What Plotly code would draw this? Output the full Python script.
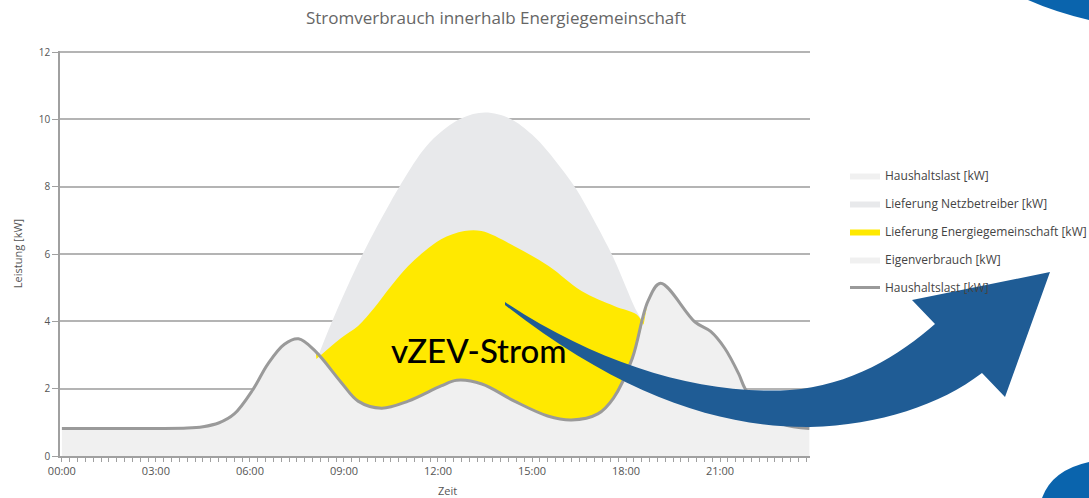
import plotly.graph_objects as go

# ---------------- data ----------------
# Haushaltslast (household load), hours -> kW
load_hours = [0, 1, 2, 3, 4, 4.5, 5.0, 5.5, 6.1, 6.57, 7.1, 7.55, 8.1, 8.9, 9.45, 10.2, 11.05,
              12.1, 12.6, 13.4, 14.44, 15.5, 16.26, 17.1, 17.6, 18.2, 18.7, 19.1, 20.2,
              20.7, 21.15, 21.6, 21.8, 22.3, 23.0, 23.85]
load_kw = [0.82, 0.82, 0.82, 0.82, 0.83, 0.87, 0.98, 1.25, 1.98, 2.73, 3.32, 3.48, 3.1, 2.2, 1.63,
           1.42, 1.63, 2.08, 2.25, 2.14, 1.63, 1.19, 1.07, 1.25, 1.72, 2.9, 4.6, 5.13, 3.98,
           3.7, 3.2, 2.43, 2.0, 1.4, 0.95, 0.82]

# Lieferung Netzbetreiber (large bell)
grid_hours = [8.15, 8.6, 9.6, 10.5, 10.77, 11.5, 12.0, 12.75, 13.5, 14.3, 15.0, 15.5, 16.36,
              16.64, 17.54, 18.34, 18.6]
grid_kw = [2.9, 3.95, 6.0, 7.57, 8.0, 9.05, 9.55, 10.03, 10.2, 10.02, 9.55, 9.05, 8.0,
           7.57, 6.0, 4.3, 3.9]

# Lieferung Energiegemeinschaft (upper edge of the yellow band)
community_hours = [8.12, 8.9, 9.45, 9.97, 10.5, 11.05, 11.57, 12.1, 12.84, 13.39, 14.44, 15.53,
                   16.58, 17.64, 18.34, 18.56]
community_kw = [2.88, 3.5, 3.86, 4.4, 5.04, 5.64, 6.08, 6.44, 6.68, 6.68, 6.23, 5.64,
                4.9, 4.45, 4.2, 3.9]

# Eigenverbrauch: household load during the supply window
own_window = (8.1, 18.7)
own_hours = [h for h in load_hours if own_window[0] <= h <= own_window[1]]
own_kw = [v for h, v in zip(load_hours, load_kw) if own_window[0] <= h <= own_window[1]]

tick_hours = [0, 3, 6, 9, 12, 15, 18, 21]
tick_labels = ["00:00", "03:00", "06:00", "09:00", "12:00", "15:00", "18:00", "21:00"]
y_ticks = [0, 2, 4, 6, 8, 10, 12]

# ---------------- figure ----------------
W, H = 1089, 498
L, R, T, B = 60, 279, 51, 42
PW, PH = W - L - R, H - T - B


def P(px, py):
    return (px - L) / PW, (H - B - py) / PH


def path(cmds):
    out = []
    for c, pts in cmds:
        out.append(c + " ".join("%.5f,%.5f" % P(x, y) for x, y in pts))
    return " ".join(out) + " Z"


fig = go.Figure()

fig.add_trace(go.Scatter(
    x=grid_hours, y=grid_kw, name="Lieferung Netzbetreiber [kW]", mode="lines",
    line=dict(width=0, shape="spline", color="#e8e9eb"), fill="tozeroy", fillcolor="#e8e9eb",
    legendgroup="g2", legendrank=2, hoverinfo="skip"))

fig.add_trace(go.Scatter(
    x=load_hours, y=load_kw, name="Haushaltslast [kW]", mode="lines",
    line=dict(width=0, shape="spline", color="#f0f0f0"), fill="tozeroy", fillcolor="#f0f0f0",
    legendgroup="g1", legendrank=1, hoverinfo="skip"))

fig.add_trace(go.Scatter(
    x=own_hours, y=own_kw, name="Eigenverbrauch [kW]", mode="lines",
    line=dict(width=0, shape="spline", color="#f0f0f0"), fill="tozeroy", fillcolor="#f0f0f0",
    legendgroup="g4", legendrank=4, hoverinfo="skip"))

fig.add_trace(go.Scatter(
    x=community_hours, y=community_kw, name="Lieferung Energiegemeinschaft [kW]", mode="lines",
    line=dict(width=0, shape="spline", color="#ffe900"), fill="tonexty", fillcolor="#ffe900",
    legendgroup="g3", legendrank=3, hoverinfo="skip"))

fig.add_trace(go.Scatter(
    x=load_hours, y=load_kw, name="Haushaltslast [kW]", mode="lines",
    line=dict(width=3, shape="spline", color="#9a9a9a"),
    legendgroup="g5", legendrank=5, hoverinfo="skip"))

# decorative overlay shapes
arrow = path([
    ("M", [(505, 302)]),
    ("C", [(600, 365), (700, 395), (790, 390)]),
    ("C", [(850, 386), (900, 355), (935, 324)]),
    ("L", [(912, 300)]),
    ("L", [(1050, 272)]),
    ("L", [(1005, 397)]),
    ("L", [(982, 373)]),
    ("C", [(940, 405), (880, 425), (810, 427)]),
    ("C", [(720, 428), (620, 395), (505, 305)]),
])
top_deco = path([
    ("M", [(1028, 0)]),
    ("L", [(1089, 0)]),
    ("L", [(1089, 20)]),
    ("Q", [(1055, 12), (1028, 0)]),
])
bottom_deco = path([
    ("M", [(1042, 498)]),
    ("Q", [(1052, 470), (1089, 462)]),
    ("L", [(1089, 498)]),
])
shapes = [
    dict(type="path", path=arrow, xref="paper", yref="paper", fillcolor="#1f5c95",
         line=dict(width=0), layer="above"),
    dict(type="path", path=top_deco, xref="paper", yref="paper", fillcolor="#0a64ad",
         line=dict(width=0), layer="above"),
    dict(type="path", path=bottom_deco, xref="paper", yref="paper", fillcolor="#0a64ad",
         line=dict(width=0), layer="above"),
]

annotations = [
    dict(text="vZEV-Strom", x=P(479, 350)[0], y=P(479, 350)[1], xref="paper", yref="paper",
         showarrow=False, xanchor="center", yanchor="middle",
         font=dict(family="Lato", size=33, color="#000000", weight=500)),
    dict(text="Zeit", x=P(447, 490)[0], y=P(447, 490)[1], xref="paper", yref="paper",
         showarrow=False, xanchor="center", yanchor="middle",
         font=dict(family="Open Sans", size=11, color="#555555")),
]

fig.update_layout(
    width=W, height=H,
    margin=dict(l=L, r=R, t=T, b=B, autoexpand=False),
    plot_bgcolor="white", paper_bgcolor="white",
    font=dict(family="Open Sans", color="#555555"),
    title=dict(text="Stromverbrauch innerhalb Energiegemeinschaft",
               x=496 / W, xref="container", xanchor="center",
               y=1 - 18 / H, yref="container", yanchor="middle",
               font=dict(family="Open Sans", size=17, color="#666666")),
    showlegend=True,
    legend=dict(x=(845 - L) / PW, xanchor="left", y=P(0, 161)[1], yanchor="top",
                font=dict(family="Open Sans", size=12, color="#444444"),
                tracegroupgap=9, bgcolor="rgba(0,0,0,0)"),
    shapes=shapes,
    annotations=annotations,
)

fig.update_xaxes(
    range=[-0.06, 23.87], tickmode="array", tickvals=tick_hours, ticktext=tick_labels,
    showgrid=False, zeroline=False, showline=True, linecolor="#a0a0a0", linewidth=1.5,
    ticks="outside", ticklen=4, tickcolor="#a0a0a0", tickwidth=1,
    tickfont=dict(size=11, color="#555555"),
    minor=dict(tickmode="linear", tick0=0, dtick=0.25, ticks="outside", ticklen=4,
               tickcolor="#a0a0a0", tickwidth=1, showgrid=False),
)
fig.update_yaxes(
    range=[0, 12.03], tickmode="array", tickvals=y_ticks,
    showgrid=True, gridcolor="#b4b4b4", gridwidth=1.5, zeroline=False,
    showline=True, linecolor="#a0a0a0", linewidth=1.5,
    ticks="outside", ticklen=6, tickcolor="#a0a0a0",
    tickfont=dict(size=10, color="#555555"),
    title=dict(text="Leistung [kW]", font=dict(size=11, color="#555555"), standoff=14),
)

fig.write_html("out.html", config={"displayModeBar": False},
               post_script="document.body.style.margin='0px';document.body.style.overflow='hidden';")
